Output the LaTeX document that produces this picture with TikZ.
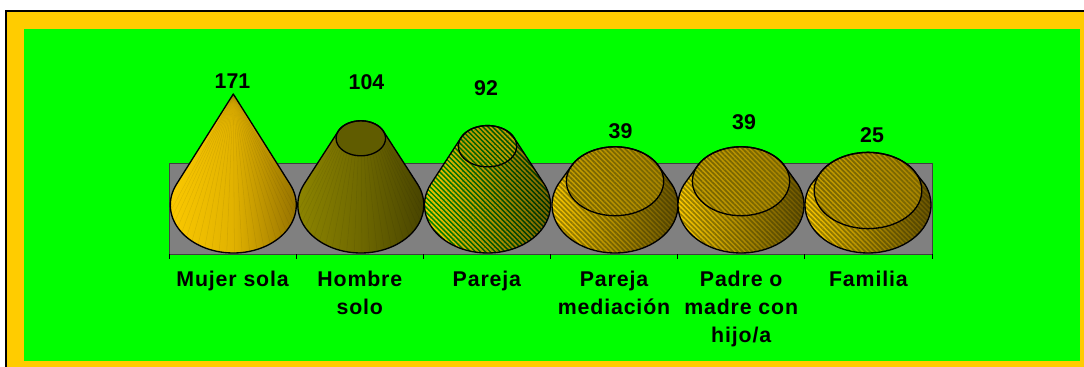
\documentclass[tikz,border=0pt]{standalone}
\usepackage{fontspec}
\setmainfont{Liberation Sans}
\newfontfamily\labfont{Liberation Sans}[LetterSpace=4]
\usetikzlibrary{patterns.meta,fadings}
\definecolor{frameyellow}{RGB}{255,204,0}
\definecolor{plotgreen}{RGB}{0,255,0}
\definecolor{wallgray}{RGB}{128,128,128}
\definecolor{sOneL}{RGB}{250,200,0}
\definecolor{sOneM}{RGB}{225,178,0}
\definecolor{sOneR}{RGB}{150,115,0}
\definecolor{sTwoL}{RGB}{140,132,0}
\definecolor{sTwoM}{RGB}{110,104,0}
\definecolor{sTwoR}{RGB}{72,68,0}
\definecolor{sTwoCap}{RGB}{96,92,0}
\definecolor{greenL}{RGB}{0,135,0}
\definecolor{greenR}{RGB}{0,100,0}
\definecolor{stripeyellow}{RGB}{245,200,0}
\definecolor{goldL}{RGB}{255,204,0}
\definecolor{goldR}{RGB}{215,170,0}
\definecolor{olivestripe}{RGB}{158,132,0}
% silhouette of a cone / frustum: #1 centre x, #2 top scale
\newcommand{\silpath}[2]{plot[domain=-25.62:205.62,samples=61] ({#1+63*cos(\x)},{205+48*sin(\x)}) -- plot[domain=205.62:334.38,samples=41] ({#1+#2*63*cos(\x)},{205-111*(1-#2)+2*#2+0.93*#2*48*sin(\x)}) -- cycle}
\newcommand{\cappath}[2]{plot[domain=0:360,samples=73] ({#1+#2*63*cos(\x)},{205-111*(1-#2)+2*#2+0.93*#2*48*sin(\x)}) -- cycle}
\newcommand{\stripedshape}[5]{%
  \fill[left color=#3, right color=#4] \silpath{#1}{#2};
  \fill[stripes, pattern color=#5] \silpath{#1}{#2};
  \fill[black, fill opacity=0.5, path fading=west] \silpath{#1}{#2};
  \fill[left color=#3, right color=#4] \cappath{#1}{#2};
  \fill[stripes, pattern color=#5] \cappath{#1}{#2};
  \fill[black, fill opacity=0.22] \cappath{#1}{#2};
  \draw[outline] \silpath{#1}{#2};
  \draw[outline] \cappath{#1}{#2};
}
\tikzset{
  outline/.style={draw=black, line width=1pt, line join=round},
  stripes/.style={pattern={Lines[angle=-45,distance=2.6pt,line width=1.3pt]}},
  lab/.style={anchor=north, inner sep=0pt, align=center, font=\labfont\bfseries\fontsize{16}{21}\selectfont},
  num/.style={anchor=base, inner sep=0pt, font=\bfseries\fontsize{16}{19}\selectfont},
  tick/.style={draw=black, line width=0.75pt}
}
\begin{document}
\begin{tikzpicture}[x=0.75pt,y=-0.75pt]
\useasboundingbox (0,0) rectangle (1084,367);
\clip (0,0) rectangle (1084,367);
\fill[white] (0,0) rectangle (1084,367);
\fill[frameyellow] (6,11) rectangle (1098,379);
\draw[black, line width=0.9pt] (6,11) rectangle (1098,379);
\fill[plotgreen] (24,29) rectangle (1080,361);
% back wall
\fill[wallgray] (169,164) rectangle (932,254);
\draw[black!75, line width=0.75pt] (169,164) rectangle (932,254);
\foreach \i in {0,...,6} \draw[tick] ({169+127.17*\i},254) -- ({169+127.17*\i},259);
% shape 1: cone
\fill[left color=sOneL, right color=sOneR, middle color=sOneM] \silpath{233.3}{0};
\foreach \a in {5,12,...,175} \draw[black, opacity=0.07, line width=0.4pt] (233.3,94) -- ({233.3+63*cos(\a)},{205+48*sin(\a)});
\draw[outline] \silpath{233.3}{0};
% shape 2: frustum
\fill[left color=sTwoL, right color=sTwoR, middle color=sTwoM] \silpath{360.8}{0.392};
\foreach \a in {5,12,...,175} \draw[black, opacity=0.07, line width=0.4pt] ({360.8+0.392*63*cos(\a)},{205-111*0.608+0.784+0.93*0.392*48*sin(\a)}) -- ({360.8+63*cos(\a)},{205+48*sin(\a)});
\fill[sTwoCap] \cappath{360.8}{0.392};
\draw[outline] \silpath{360.8}{0.392};
\draw[outline] \cappath{360.8}{0.392};
% shape 3
\stripedshape{487.5}{0.462}{greenL}{greenR}{stripeyellow}
% shapes 4-6
\stripedshape{615}{0.772}{goldL}{goldR}{olivestripe}
\stripedshape{741}{0.772}{goldL}{goldR}{olivestripe}
\stripedshape{868}{0.854}{goldL}{goldR}{olivestripe}
% values
\node[num] (v1) at (232.5,88.3) {171};
\node[num] (v2) at (366.5,90) {104};
\node[num] (v3) at (486,96) {92};
\node[num] (v4) at (620.5,138.3) {39};
\node[num] (v5) at (744,130) {39};
\node[num] (v6) at (872,142.7) {25};
% categories
\node[lab] (l1) at (232.6,270.7) {Mujer sola};
\node[lab] (l2) at (359.8,270.7) {Hombre\\solo};
\node[lab] (l3) at (486.9,270.7) {Pareja};
\node[lab] (l4) at (614,270.7) {Pareja\\mediación};
\node[lab] (l5) at (741.2,270.7) {Padre o\\madre con\\hijo/a};
\node[lab] (l6) at (868.4,270.7) {Familia};
\end{tikzpicture}
\end{document}
